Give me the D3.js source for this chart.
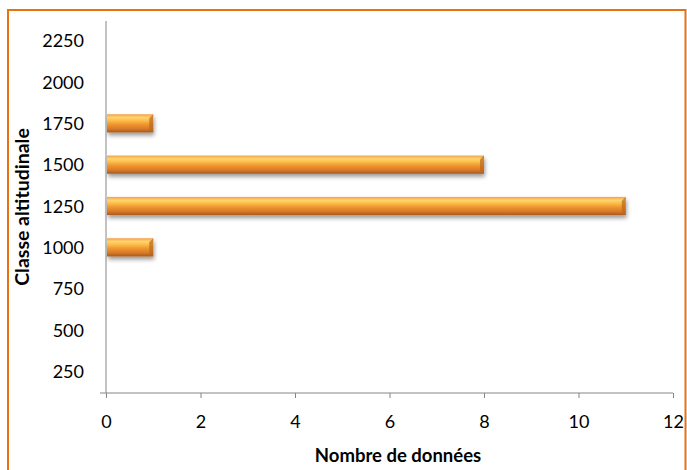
<!DOCTYPE html>
<html><head><meta charset="utf-8">
<script src="https://cdn.jsdelivr.net/npm/d3@7"></script>
<style>
html,body{margin:0;padding:0;background:#fff;}
svg{display:block;}
text{font-family:Lato,"Open Sans",sans-serif;fill:#000;}
</style></head>
<body><svg id="c" width="687" height="470"></svg>
<script>
const categories = ["250","500","750","1000","1250","1500","1750","2000","2250"];
const counts = [0,0,0,1,11,8,1,0,0];
const xTicks = [0,2,4,6,8,10,12];
const xTitle = "Nombre de données";
const yTitle = "Classe altitudinale";

const svg = d3.select("#c");
const W = 687, H = 470;
const m = {left:106, right:14, top:21, bottom:77};

// frame
svg.append("rect").attr("x",8).attr("y",10).attr("width",677.5).attr("height",480)
  .attr("fill","#fff").attr("stroke","#e8720f").attr("stroke-width",2);

const defs = svg.append("defs");
const g1 = defs.append("linearGradient").attr("id","bar").attr("x1",0).attr("y1",0).attr("x2",0).attr("y2",1);
[[0,"#f2a04c"],[0.18,"#ffd56b"],[0.35,"#fbbd4c"],[0.55,"#f0972f"],[0.8,"#d8792a"],[1,"#a85a1c"]]
  .forEach(([o,c])=>g1.append("stop").attr("offset",o).attr("stop-color",c));
const f = defs.append("filter").attr("id","sh").attr("x","-5%").attr("y","-30%").attr("width","115%").attr("height","180%");
f.append("feGaussianBlur").attr("in","SourceAlpha").attr("stdDeviation",2);
f.append("feOffset").attr("dx",1).attr("dy",3).attr("result","b");
f.append("feComponentTransfer").append("feFuncA").attr("type","linear").attr("slope",0.4);
const mg = f.append("feMerge"); mg.append("feMergeNode"); mg.append("feMergeNode").attr("in","SourceGraphic");

const x = d3.scaleLinear().domain([0,12]).range([m.left, 673]);
const y = d3.scaleBand().domain(categories.slice().reverse()).range([m.top, 393]).paddingInner(0.56).paddingOuter(0.28);
const yb = d3.scaleBand().domain(categories.slice().reverse()).range([m.top, 393]);

// bars
const data = categories.map((c,i)=>({c, v:counts[i]})).filter(d=>d.v>0);
svg.append("g").selectAll("rect").data(data).join("rect")
  .attr("x", x(0)+1).attr("y", d=>y(d.c)-1).attr("width", d=>x(d.v)-x(0)-1).attr("height", y.bandwidth())
  .attr("fill","url(#bar)").attr("filter","url(#sh)");
// bevel ends
svg.append("g").selectAll("path").data(data).join("path")
  .attr("d", d=>{const x1=x(d.v), y0=y(d.c)-1, h=y.bandwidth(); return `M${x1-4},${y0+4}L${x1},${y0}L${x1},${y0+h}L${x1-4},${y0+h-3}Z`;})
  .attr("fill","#b8661e").attr("opacity",0.7);

// x axis
const xa = svg.append("g").attr("transform",`translate(0,393)`)
  .call(d3.axisBottom(x).tickValues(xTicks).tickSize(5).tickSizeOuter(0).tickPadding(17));
xa.select(".domain").remove();
xa.append("line").attr("x1",100).attr("x2",673).attr("y1",0).attr("y2",0).attr("stroke","#868686");
xa.selectAll(".tick line").attr("stroke","#868686");
xa.selectAll("text").attr("font-size",18).attr("font-family","Lato,sans-serif").attr("fill","#000");

// y axis
const ya = svg.append("g").attr("transform",`translate(${m.left},0)`)
  .call(d3.axisLeft(yb).tickSize(0).tickPadding(22));
ya.select(".domain").attr("stroke","#868686").attr("d",`M0,${m.top}V393`);
ya.selectAll("text").attr("font-size",18).attr("font-family","Lato,sans-serif").attr("fill","#000");

svg.append("text").attr("x",398).attr("y",462).attr("text-anchor","middle")
  .attr("font-size",18.5).attr("font-weight","bold").text(xTitle);
svg.append("text").attr("transform","translate(29,207) rotate(-90)").attr("text-anchor","middle")
  .attr("font-size",19.5).attr("font-weight","bold").text(yTitle);
</script></body></html>
